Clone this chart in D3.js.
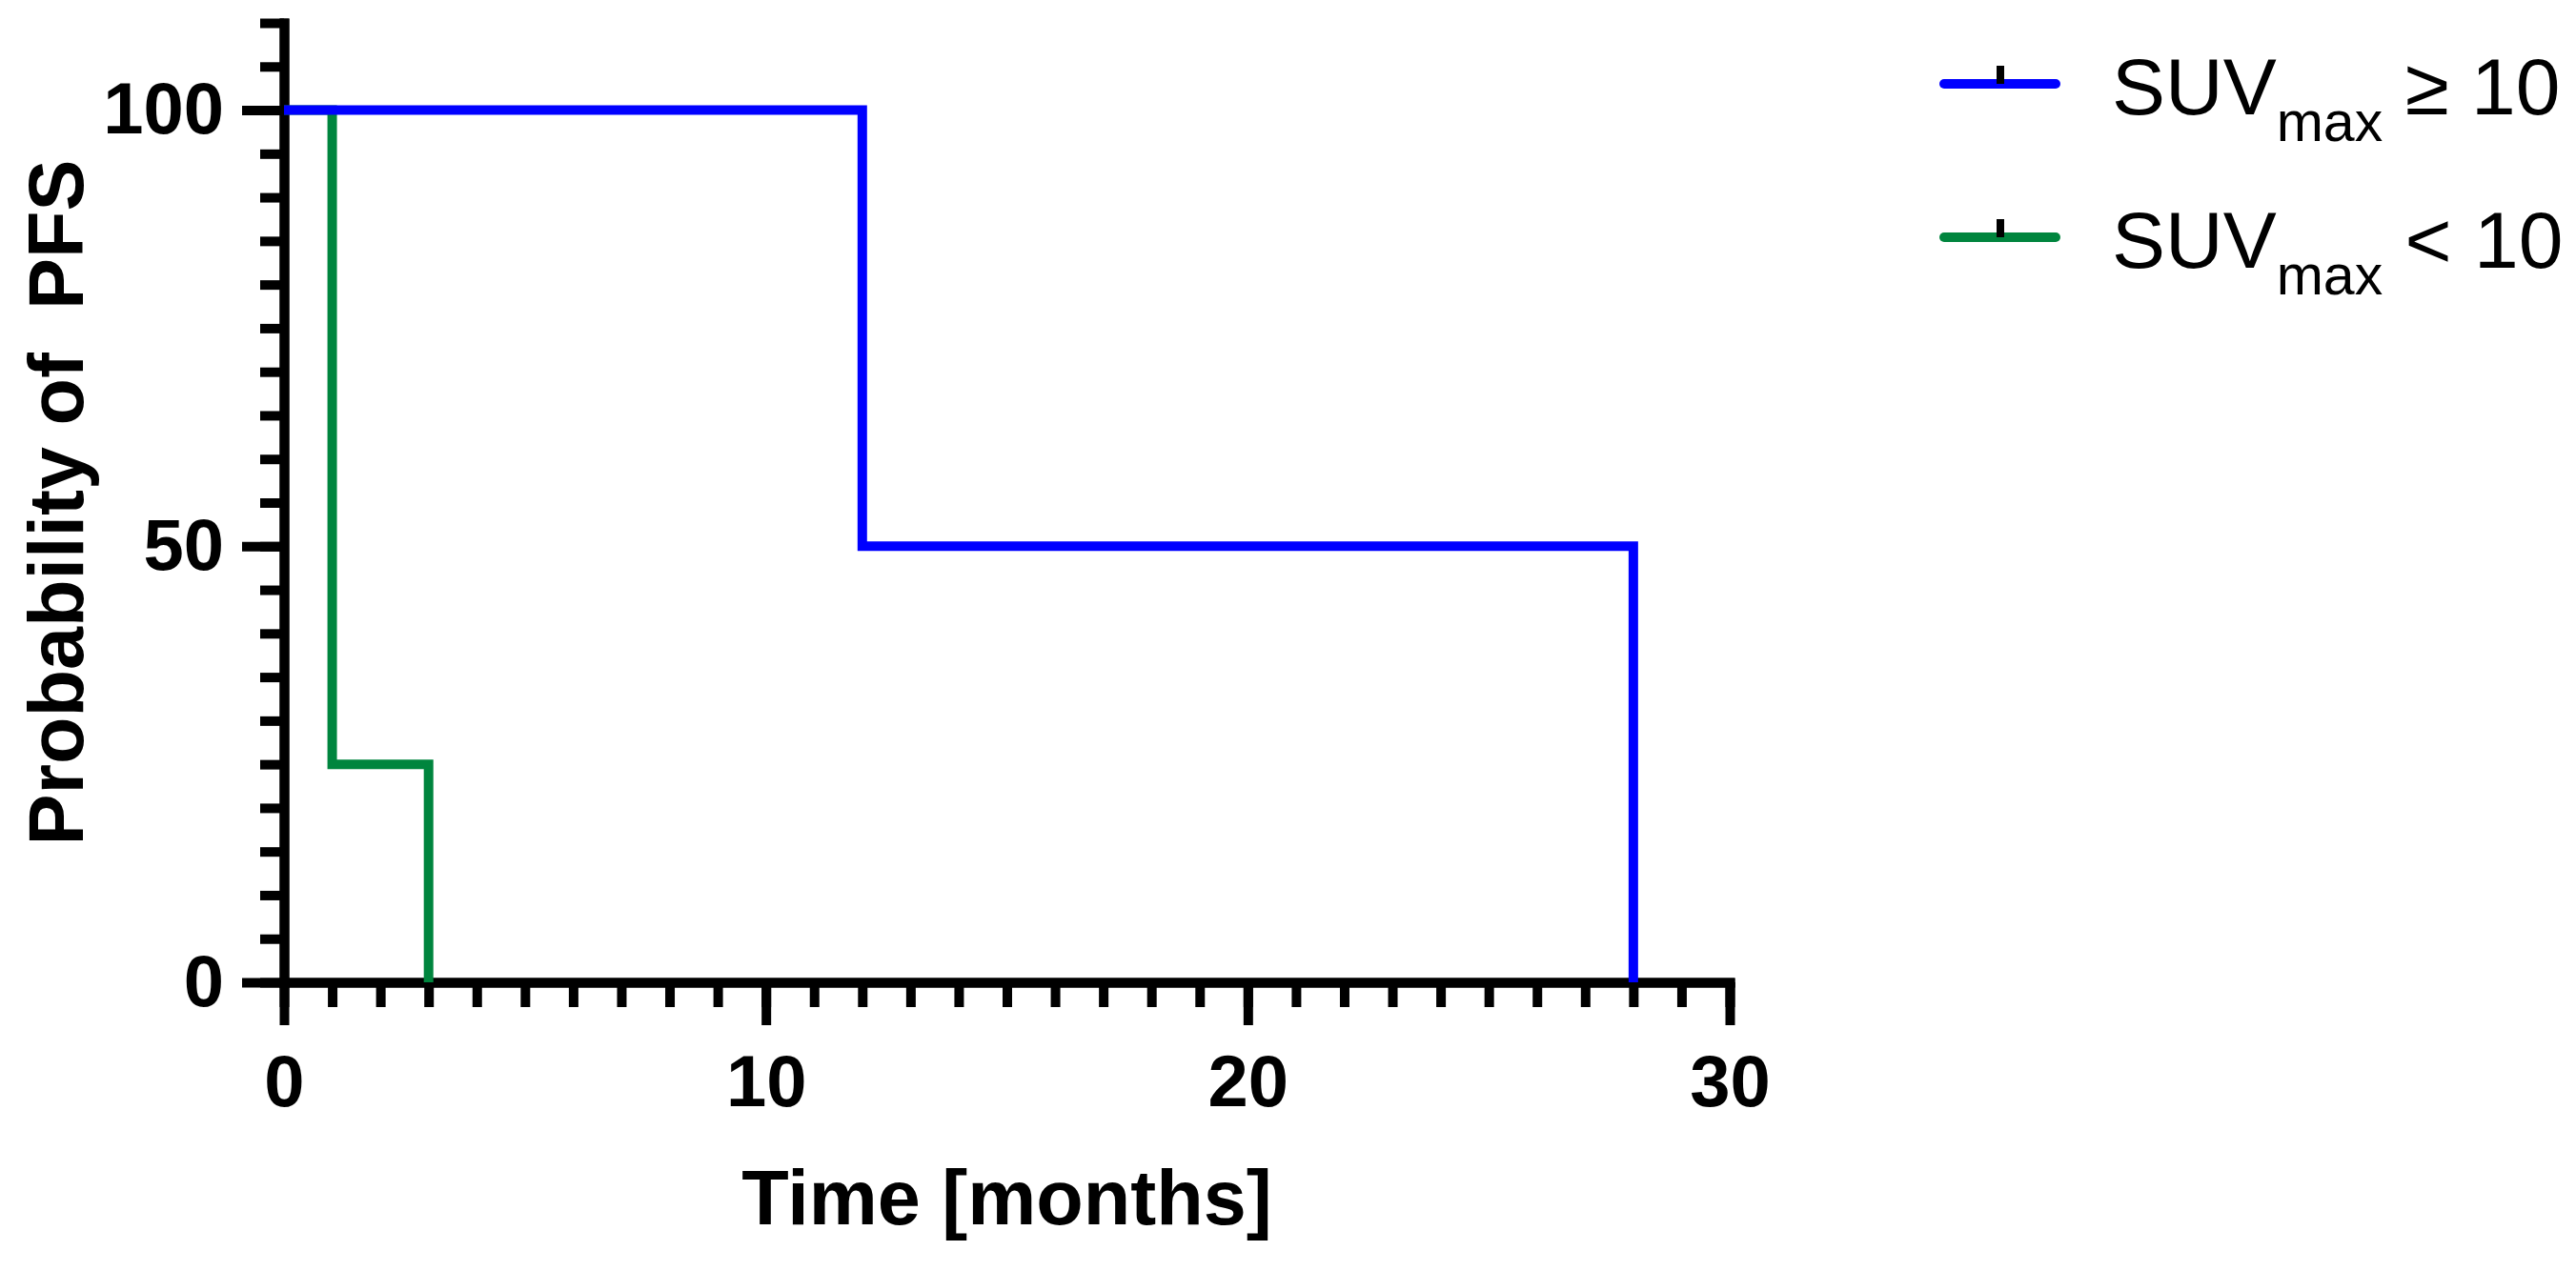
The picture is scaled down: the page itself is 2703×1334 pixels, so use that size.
<!DOCTYPE html>
<html>
<head>
<meta charset="utf-8">
<script src="https://cdn.jsdelivr.net/npm/d3@7"></script>
<style>
  html, body { margin: 0; padding: 0; background: #fff; }
  svg { display: block; }
  text { font-family: "Liberation Sans", Arial, Helvetica, sans-serif; }
</style>
</head>
<body>
<script>
// ---- data ----
const seriesNames = ["SUVmax ≥ 10", "SUVmax < 10"];
const seriesColors = ["#0000ff", "#00853e"];
const highTimes = [0, 12, 28];
const highSurv = [100, 50, 0];
const lowTimes = [0, 1, 3];
const lowSurv = [100, 25, 0];
const xMajorTicks = [0, 10, 20, 30];
const yMajorTicks = [0, 50, 100];
const xMinorTicks = d3.range(0, 31, 1);
const yMinorTicks = d3.range(0, 111, 5);
const legendMain = ["SUV", "SUV"];
const legendSub = ["max", "max"];
const legendRest = [" \u2265 10", " < 10"];
const xTitle = "Time [months]";
const yTitle = "Probability of  PFS";

const W = 2703, H = 1334;
const svg = d3.select("body").append("svg").attr("width", W).attr("height", H);

const x = d3.scaleLinear().domain([0, 30]).range([298, 1815]);
const y = d3.scaleLinear().domain([0, 110]).range([1031, 24]);

const AX = 10;

// y minor ticks
svg.append("g").attr("transform", `translate(${x(0)},0)`)
  .call(d3.axisLeft(y).tickValues(yMinorTicks).tickSize(25).tickSizeOuter(0).tickFormat(""));
// y major ticks
svg.append("g").attr("transform", `translate(${x(0)},0)`)
  .call(d3.axisLeft(y).tickValues(yMajorTicks).tickSize(44).tickSizeOuter(0).tickPadding(19));
// x minor
svg.append("g").attr("transform", `translate(0,${y(0)})`)
  .call(d3.axisBottom(x).tickValues(xMinorTicks).tickSize(26).tickSizeOuter(0).tickFormat(""));
// x major
svg.append("g").attr("transform", `translate(0,${y(0)})`)
  .call(d3.axisBottom(x).tickValues(xMajorTicks).tickSize(45).tickSizeOuter(0).tickPadding(31));

svg.selectAll(".domain").attr("stroke", "#000").attr("stroke-width", AX).attr("stroke-linecap", "square");
svg.selectAll(".tick line").attr("stroke", "#000").attr("stroke-width", AX);
svg.selectAll(".tick text").attr("fill", "#000").attr("font-size", 76).attr("font-weight", "bold")
  .attr("font-family", "'Liberation Sans', Arial, sans-serif");

// survival curves
const line = d3.line().x(d => x(d[0])).y(d => y(d[1])).curve(d3.curveStepAfter);
const lowData = lowTimes.map((t, i) => [t, lowSurv[i]]);
const highData = highTimes.map((t, i) => [t, highSurv[i]]);
svg.append("path").datum(lowData).attr("d", line).attr("fill", "none")
  .attr("stroke", seriesColors[1]).attr("stroke-width", 10).attr("stroke-linejoin", "miter");
svg.append("path").datum(highData).attr("d", line).attr("fill", "none")
  .attr("stroke", seriesColors[0]).attr("stroke-width", 10).attr("stroke-linejoin", "miter");

// axis titles
svg.append("text").attr("x", (x(0) + x(30)) / 2).attr("y", 1285)
  .attr("text-anchor", "middle").attr("font-size", 81).attr("font-weight", "bold").text(xTitle);
svg.append("text").attr("transform", `translate(87,${(y(0) + y(110)) / 2}) rotate(-90)`)
  .attr("text-anchor", "middle").attr("font-size", 81).attr("font-weight", "bold")
  .style("white-space", "pre").text(yTitle);

// legend
const legY = [88, 249];
seriesNames.forEach((name, i) => {
  const g = svg.append("g");
  g.append("line").attr("x1", 2040).attr("x2", 2157).attr("y1", legY[i]).attr("y2", legY[i])
    .attr("stroke", seriesColors[i]).attr("stroke-width", 10).attr("stroke-linecap", "round");
  g.append("line").attr("x1", 2099).attr("x2", 2099).attr("y1", legY[i] - 19).attr("y2", legY[i])
    .attr("stroke", "#000").attr("stroke-width", 8);
  const t = g.append("text").attr("x", 2216).attr("y", legY[i] + 32).attr("font-size", 84)
    .style("white-space", "pre");
  t.append("tspan").text(legendMain[i]);
  t.append("tspan").attr("font-size", 59).attr("dy", 28).text(legendSub[i]);
  t.append("tspan").attr("dy", -28).text(legendRest[i]);
});
</script>
</body>
</html>
